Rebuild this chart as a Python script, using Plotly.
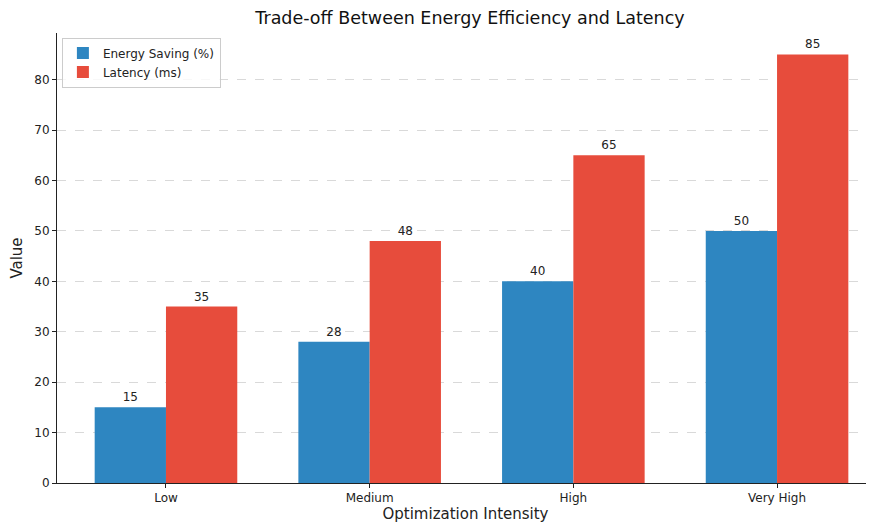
import plotly.graph_objects as go

categories = ["Low", "Medium", "High", "Very High"]
energy_saving = [15, 28, 40, 50]
latency = [35, 48, 65, 85]
y_ticks = [0, 10, 20, 30, 40, 50, 60, 70, 80]

font = "DejaVu Sans, sans-serif"
fig = go.Figure()
fig.add_trace(go.Bar(x=categories, y=energy_saving, name="Energy Saving (%)",
                     marker=dict(color="#2E86C1", line=dict(width=0)),
                     text=[str(v) for v in energy_saving], textposition="outside",
                     textfont=dict(size=12, color="#222", family=font), cliponaxis=False))
fig.add_trace(go.Bar(x=categories, y=latency, name="Latency (ms)",
                     marker=dict(color="#E74C3C", line=dict(width=0)),
                     text=[str(v) for v in latency], textposition="outside",
                     textfont=dict(size=12, color="#222", family=font), cliponaxis=False))

# page body has an 8px margin, so the figure is sized/offset accordingly
W, H = 866, 518
fig.update_layout(
    width=W, height=H,
    margin=dict(l=49, r=0, t=25, b=43, autoexpand=False),
    paper_bgcolor="white", plot_bgcolor="white",
    barmode="group", bargap=0.3, bargroupgap=0,
    font=dict(family=font, size=12, color="#222"),
    title=dict(text="Trade-off Between Energy Efficiency and Latency", x=0.5055, xanchor="center",
               xref="paper", yref="container", y=1 - 10 / H, yanchor="middle",
               font=dict(size=17.5, color="#111", family=font)),
    legend=dict(x=0.006, y=0.99, xanchor="left", yanchor="top", bgcolor="rgba(255,255,255,0.8)",
                bordercolor="#ccc", borderwidth=1, font=dict(size=12, family=font),
                tracegroupgap=0),
    xaxis=dict(range=[-0.535, 3.476], showline=True, linecolor="#222", linewidth=1,
               ticks="outside", ticklen=4, tickcolor="#222", showgrid=False,
               tickfont=dict(size=12, family=font), automargin=False,
               title=dict(text="Optimization Intensity", font=dict(size=15, family=font), standoff=4)),
    yaxis=dict(range=[0, 89.25], tickvals=y_ticks, showline=True, linecolor="#222", linewidth=1,
               ticks="outside", ticklen=4, tickcolor="#222", zeroline=False,
               showgrid=True, gridcolor="#d9d9d9", griddash="dash", gridwidth=1,
               tickfont=dict(size=12, family=font), automargin=False,
               title=dict(text="Value", font=dict(size=15, family=font), standoff=8)),
)
fig.write_html("out.html")
